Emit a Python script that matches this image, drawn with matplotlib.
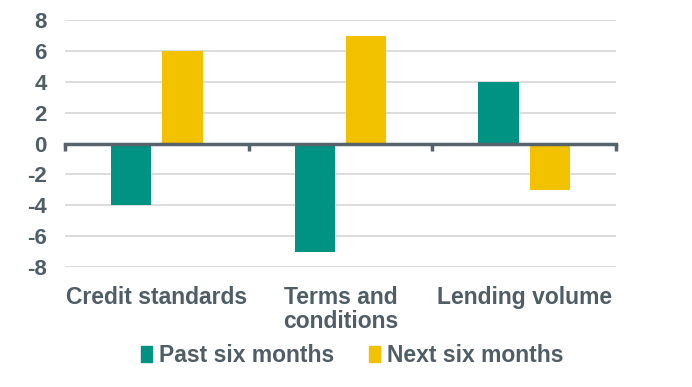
import matplotlib.pyplot as plt
import numpy as np
from matplotlib.patches import Patch
import matplotlib.transforms as mtransforms

categories = ["Credit standards", "Terms and\nconditions", "Lending volume"]
past_six = [-4, -7, 4]
next_six = [6, 7, -3]
series_names = ["Past six months", "Next six months"]

teal = "#009384"
gold = "#F2C100"
text_col = "#4f5d66"
axis_col = "#56636b"
grid_col = "#d9d9d9"

plt.rcParams['font.family'] = ['Liberation Sans', 'DejaVu Sans']
plt.rcParams['font.weight'] = 'bold'
plt.rcParams['axes.unicode_minus'] = False

fig = plt.figure(figsize=(6.92, 3.87), dpi=100)
ax = fig.add_axes([0.094, 0.310, 0.796, 0.638])

x = np.arange(len(categories))
w = 0.22
ax.bar(x - 0.14, past_six, w, color=teal, zorder=3)
ax.bar(x + 0.14, next_six, w, color=gold, zorder=3)

ax.set_xlim(-0.5, 2.5)
ax.set_ylim(-8, 8)
ax.set_yticks(range(-8, 9, 2))
ax.yaxis.grid(True, color=grid_col, linewidth=1.3, zorder=0)
ax.set_axisbelow(True)
for s in ["top", "right", "left"]:
    ax.spines[s].set_visible(False)
ax.spines["bottom"].set_position(("data", 0))
ax.spines["bottom"].set_color(axis_col)
ax.spines["bottom"].set_linewidth(2.5)
ax.spines["bottom"].set_zorder(4)

ax.tick_params(axis="y", length=0, pad=13, labelsize=16, labelcolor=text_col)
ax.set_xticks(x)
ax.tick_params(axis="x", which="major", length=0, labelbottom=False)
ax.set_xticks([-0.5, 0.5, 1.5, 2.5], minor=True)
ax.tick_params(axis="x", which="minor", length=5, width=2.5, color=axis_col,
               direction="out")

# category labels below the plot area
trans = mtransforms.blended_transform_factory(ax.transData, ax.transAxes)
for xi, lab in zip(x, categories):
    ax.text(xi, -0.075, lab, transform=trans, ha="center", va="top",
            fontsize=16.5, color=text_col, fontweight="bold", linespacing=1.08)

handles = [Patch(color=teal), Patch(color=gold)]
leg = fig.legend(handles, series_names, loc="center", bbox_to_anchor=(0.509, 0.082),
                 ncol=2, frameon=False, fontsize=16.5, handlelength=0.5,
                 handleheight=0.7, handletextpad=0.3, columnspacing=1.5)
for t in leg.get_texts():
    t.set_color(text_col)

fig.savefig("out.png", dpi=100)
